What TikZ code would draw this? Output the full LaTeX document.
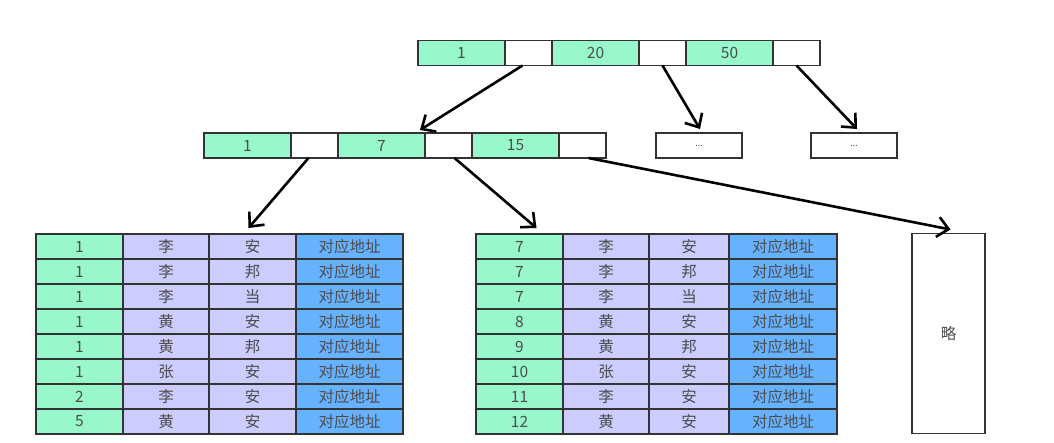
\documentclass[tikz,border=0pt]{standalone}
\usepackage{fontspec}
\setmainfont{Noto Sans CJK SC}
\usetikzlibrary{arrows.meta,positioning}
\definecolor{keygreen}{HTML}{99F7CC}
\definecolor{namefill}{HTML}{CCCCFF}
\definecolor{addrblue}{HTML}{66B2FF}
\definecolor{edge}{HTML}{333333}
\definecolor{ink}{HTML}{4D4D4D}
\tikzset{
  cell/.style={draw=edge, line width=1.7pt, inner sep=0pt, outer sep=0pt,
    minimum height=25pt, text=ink, font=\fontsize{15.5}{18}\selectfont},
  keycell/.style={cell, fill=keygreen, minimum width=87pt},
  ptrcell/.style={cell, fill=white, minimum width=47pt},
  namecell/.style={cell, fill=namefill},
  addrcell/.style={cell, fill=addrblue},
  dotbox/.style={cell, fill=white, minimum width=86pt, font=\fontsize{9}{10}\selectfont},
  arr/.style={-{Straight Barb[length=11pt,width=20pt]}, line width=2.6pt, black}
}

\begin{document}
\begin{tikzpicture}[x=1pt,y=-1pt]
  \useasboundingbox (0,0) rectangle (1054,442);

  % root
  \node[keycell] (r1) at (461.5,53) {1};
  \node[ptrcell, right=0pt of r1] (rp1) {};
  \node[keycell, right=0pt of rp1] (r20) {20};
  \node[ptrcell, right=0pt of r20] (rp2) {};
  \node[keycell, right=0pt of rp2] (r50) {50};
  \node[ptrcell, right=0pt of r50] (rp3) {};

  % second level
  \node[keycell] (k1) at (247.5,145.5) {1};
  \node[ptrcell, right=0pt of k1] (p1) {};
  \node[keycell, right=0pt of p1] (k7) {7};
  \node[ptrcell, right=0pt of k7] (p2) {};
  \node[keycell, right=0pt of p2] (k15) {15};
  \node[ptrcell, right=0pt of k15] (p3) {};
  \node[dotbox] (d1) at (699,145.5) {...};
  \node[dotbox] (d2) at (854,145.5) {...};

  % leaves
  \foreach \k/\n/\g [count=\i] in {1/李/安, 1/李/邦, 1/李/当, 1/黄/安, 1/黄/邦, 1/张/安, 2/李/安, 5/黄/安} {
    \node[keycell] (lk\i) at (79.5,{221.5+25*\i}) {\k};
    \node[namecell, minimum width=86pt, right=0pt of lk\i] (ln\i) {\n};
    \node[namecell, minimum width=87pt, right=0pt of ln\i] (lg\i) {\g};
    \node[addrcell, minimum width=107pt, right=0pt of lg\i] (la\i) {对应地址};
  }
  \foreach \k/\n/\g [count=\i] in {7/李/安, 7/李/邦, 7/李/当, 8/黄/安, 9/黄/邦, 10/张/安, 11/李/安, 12/黄/安} {
    \node[keycell] (rk\i) at (519.5,{221.5+25*\i}) {\k};
    \node[namecell, minimum width=86pt, right=0pt of rk\i] (rn\i) {\n};
    \node[namecell, minimum width=80pt, right=0pt of rn\i] (rg\i) {\g};
    \node[addrcell, minimum width=108pt, right=0pt of rg\i] (ra\i) {对应地址};
  }
  \node[cell, fill=white, minimum width=73pt, minimum height=200pt] (lue) at (948.5,333.5) {略};

  \draw[arr] ([xshift=-6pt]rp1.south) -- ([xshift=-5pt,yshift=3pt]k7.north east);
  \draw[arr] (rp2.south) -- ([xshift=1pt,yshift=4pt]d1.north);
  \draw[arr] (rp3.south) -- ([xshift=3pt,yshift=4pt]d2.north);
  \draw[arr] ([xshift=-6pt]p1.south) -- ([xshift=-4pt,yshift=6pt]lg1.north);
  \draw[arr] ([xshift=6pt]p2.south) -- ([xshift=17pt,yshift=6pt]rk1.north);
  \draw[arr] ([xshift=6pt]p3.south) -- ([xshift=2pt,yshift=4pt]lue.north);
\end{tikzpicture}
\end{document}
